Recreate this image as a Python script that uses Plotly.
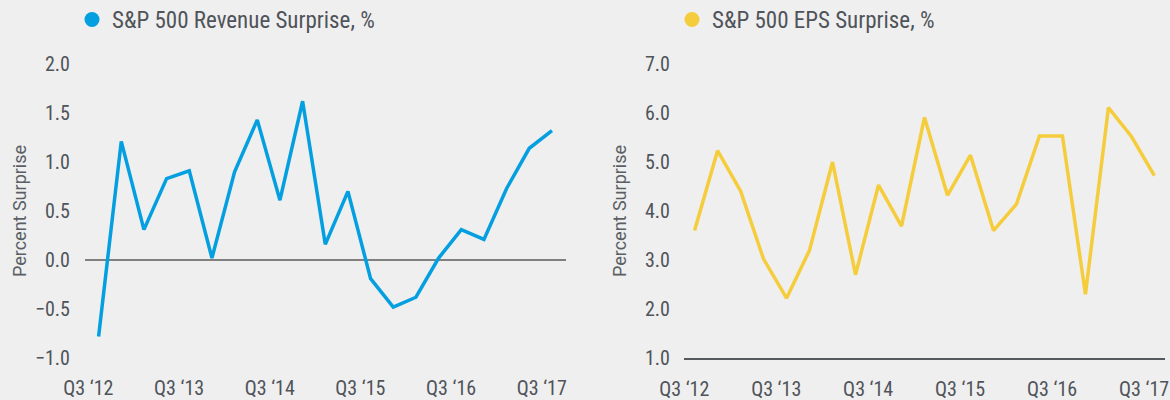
import plotly.graph_objects as go

# ---------------- data ----------------
quarters = [
    "Q3 ‘12", "Q4 ‘12", "Q1 ‘13", "Q2 ‘13", "Q3 ‘13", "Q4 ‘13", "Q1 ‘14",
    "Q2 ‘14", "Q3 ‘14", "Q4 ‘14", "Q1 ‘15", "Q2 ‘15", "Q3 ‘15", "Q4 ‘15",
    "Q1 ‘16", "Q2 ‘16", "Q3 ‘16", "Q4 ‘16", "Q1 ‘17", "Q2 ‘17", "Q3 ‘17",
]
revenue_surprise = [-0.78, 1.21, 0.31, 0.83, 0.91, 0.02, 0.90, 1.43, 0.61, 1.62, 0.16,
                    0.70, -0.19, -0.48, -0.38, 0.02, 0.31, 0.21, 0.73, 1.14, 1.32]
eps_surprise = [3.60, 5.23, 4.41, 3.02, 2.22, 3.20, 5.00, 2.70, 4.53, 3.69, 5.91,
                4.32, 5.14, 3.60, 4.14, 5.53, 5.53, 2.30, 6.11, 5.52, 4.72]
tick_labels = ["Q3 ‘12", "Q3 ‘13", "Q3 ‘14", "Q3 ‘15", "Q3 ‘16", "Q3 ‘17"]
series_names = ["S&P 500 Revenue Surprise, %", "S&P 500 EPS Surprise, %"]
y_title = "Percent Surprise"

# ---------------- style ----------------
BG = "#efefef"
BLUE = "#039fe0"
YELLOW = "#f5cd3c"
TXT = "#4f545a"
NARROW = "Liberation Sans Narrow, Roboto Condensed, DejaVu Sans Condensed, sans-serif"
REG = "Roboto, Liberation Sans, sans-serif"

W, H = 1170, 400
ML, MR, MT, MB = 85, 5, 64, 42
PW, PH = W - ML - MR, H - MT - MB


def px_x(p):
    return (p - ML) / PW


def px_y(p):
    return (H - MB - p) / PH


xs = list(range(len(quarters)))
tick_pos = [quarters.index(t) - 0.45 for t in tick_labels]

fig = go.Figure()

fig.add_trace(go.Scatter(x=xs, y=revenue_surprise, mode="lines", xaxis="x", yaxis="y",
                         line=dict(color=BLUE, width=3.5), showlegend=False,
                         hoverinfo="x+y", text=quarters))
fig.add_trace(go.Scatter(x=xs, y=eps_surprise, mode="lines", xaxis="x2", yaxis="y2",
                         line=dict(color=YELLOW, width=3.5), showlegend=False,
                         hoverinfo="x+y", text=quarters))
# legend entries (circle symbols)
fig.add_trace(go.Scatter(x=[None], y=[None], mode="markers", name=series_names[0],
                         marker=dict(color=BLUE, size=15), legend="legend",
                         xaxis="x", yaxis="y"))
fig.add_trace(go.Scatter(x=[None], y=[None], mode="markers", name=series_names[1],
                         marker=dict(color=YELLOW, size=15), legend="legend2",
                         xaxis="x2", yaxis="y2"))

xcommon = dict(tickmode="array", tickvals=tick_pos, ticktext=tick_labels,
               showgrid=False, zeroline=False, ticks="outside", ticklen=12,
               tickcolor="rgba(0,0,0,0)", tickfont=dict(family=NARROW, size=20, color=TXT),
               automargin=False, fixedrange=True)
ycommon = dict(showgrid=False, tickformat=".1f", ticks="outside",
               tickcolor="rgba(0,0,0,0)", tickfont=dict(family=NARROW, size=20, color=TXT),
               automargin=False, fixedrange=True)
title_font = dict(family=REG, size=18, color="#5a5f65")

fig.update_layout(
    width=W, height=H,
    margin=dict(l=ML, r=MR, t=MT, b=MB, pad=0, autoexpand=False),
    paper_bgcolor=BG, plot_bgcolor=BG,
    xaxis=dict(domain=[0, px_x(566)], range=[-0.6, 20.62], anchor="y",
               showline=False, **xcommon),
    yaxis=dict(domain=[0, 1], range=[-1, 2], dtick=0.5, anchor="x",
               zeroline=True, zerolinecolor="#808080", zerolinewidth=1.5, ticklen=10,
               title=dict(text=y_title, font=title_font, standoff=3),
               **ycommon),
    xaxis2=dict(domain=[px_x(684), 1], range=[-0.46, 20.46], anchor="y2",
                showline=True, linecolor="#55595f", linewidth=1.5, **xcommon),
    yaxis2=dict(domain=[0, 1], range=[1, 7], dtick=1, anchor="x2",
                zeroline=False, ticklen=9,
                title=dict(text=y_title, font=title_font, standoff=13),
                **ycommon),
    legend=dict(x=px_x(72), y=px_y(-2), xanchor="left", yanchor="top",
                bgcolor="rgba(0,0,0,0)", font=dict(family=NARROW, size=23, color=TXT)),
    legend2=dict(x=px_x(672), y=px_y(-2), xanchor="left", yanchor="top",
                 bgcolor="rgba(0,0,0,0)", font=dict(family=NARROW, size=23, color=TXT)),
    hovermode="closest",
)

fig.write_html("out.html", config={"displayModeBar": False},
               post_script="document.body.style.margin='0';")
